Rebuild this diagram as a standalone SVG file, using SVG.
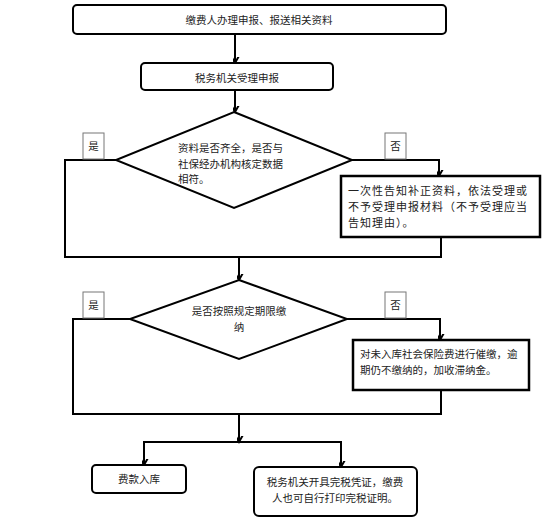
<svg xmlns="http://www.w3.org/2000/svg" width="554" height="524" viewBox="0 0 554 524">
<defs>
<marker id="arr" viewBox="-6 -10 12 12" refX="0" refY="0" markerWidth="12" markerHeight="12" markerUnits="userSpaceOnUse" orient="auto-start-reverse">
<path d="M-4.5,-8 L0,0 L4.5,-8" transform="rotate(-90)" fill="none" stroke="#000" stroke-width="2"/>
</marker>
<style>
.t{font-family:"Noto Sans CJK SC","Noto Sans",sans-serif;font-size:10.5px;fill:#222}
.c{text-anchor:middle}
.big{font-size:11px;letter-spacing:1px}
.rb{fill:#fff;stroke:#000;stroke-width:2}
.sq{fill:#fff;stroke:#000;stroke-width:2.5}
.lb{fill:#fff;stroke:#777;stroke-width:1}
.ln{fill:none;stroke:#000;stroke-width:2}
</style>
</defs>
<rect width="554" height="524" fill="#fff"/>
<g id="connectors">
<line class="ln" x1="235" y1="34" x2="235" y2="63" marker-end="url(#arr)"/>
<line class="ln" x1="235" y1="90" x2="235" y2="112" marker-end="url(#arr)"/>
<polyline class="ln" points="116,160 65,160 65,257 441,257 441,237"/>
<polyline class="ln" points="352,160 439,160 439,176" marker-end="url(#arr)"/>
<line class="ln" x1="239" y1="257" x2="239" y2="280" marker-end="url(#arr)"/>
<polyline class="ln" points="130,319 73,319 73,414 441,414 441,390"/>
<polyline class="ln" points="347,319 440,319 440,340" marker-end="url(#arr)"/>
<line class="ln" x1="239" y1="414" x2="239" y2="442" marker-end="url(#arr)"/>
<polyline class="ln" points="144,465 144,442 341,442 341,467" marker-start="url(#arr)" marker-end="url(#arr)"/>
</g>
<g id="n1">
<rect class="rb" x="73" y="5" width="373" height="29" rx="4"/>
<text class="t c" x="259" y="24">缴费人办理申报、报送相关资料</text>
</g>
<g id="n2">
<rect class="rb" x="141" y="63" width="192" height="27" rx="4"/>
<text class="t c" x="237" y="82">税务机关受理申报</text>
</g>
<g id="d1">
<polygon class="rb" points="234,112 352,160 234,208 116,160"/>
<text class="t" x="178" y="152">资料是否齐全，是否与</text>
<text class="t" x="178" y="167.5">社保经办机构核定数据</text>
<text class="t" x="178" y="183">相符。</text>
</g>
<g id="l1y">
<rect class="lb" x="83" y="133" width="21" height="26"/>
<text class="t c" x="93.5" y="149.5">是</text>
</g>
<g id="l1n">
<rect class="lb" x="385" y="133" width="21" height="26"/>
<text class="t c" x="395.5" y="149.5">否</text>
</g>
<g id="n3">
<rect class="sq" x="341" y="176" width="199" height="61"/>
<text class="t big" x="348" y="195">一次性告知补正资料，依法受理或</text>
<text class="t big" x="348" y="211">不予受理申报材料（不予受理应当</text>
<text class="t big" x="348" y="227">告知理由）。</text>
</g>
<g id="d2">
<polygon class="rb" points="239,280 347,319 239,359 130,319"/>
<text class="t c" x="239" y="315">是否按照规定期限缴</text>
<text class="t c" x="239" y="331">纳</text>
</g>
<g id="l2y">
<rect class="lb" x="83" y="292" width="21" height="26"/>
<text class="t c" x="93.5" y="308.5">是</text>
</g>
<g id="l2n">
<rect class="lb" x="385" y="292" width="21" height="26"/>
<text class="t c" x="395.5" y="308.5">否</text>
</g>
<g id="n4">
<rect class="sq" x="353" y="340" width="176" height="50"/>
<text class="t" x="360" y="358">对未入库社会保险费进行催缴，逾</text>
<text class="t" x="360" y="373.5">期仍不缴纳的，加收滞纳金。</text>
</g>
<g id="n5">
<rect class="rb" x="92" y="465" width="94" height="28" rx="4"/>
<text class="t c" x="139" y="483">费款入库</text>
</g>
<g id="n6">
<rect class="rb" x="254" y="467" width="163" height="49" rx="5"/>
<text class="t c" x="335" y="485.5">税务机关开具完税凭证，缴费</text>
<text class="t c" x="335" y="501.5">人也可自行打印完税证明。</text>
</g>
</svg>
